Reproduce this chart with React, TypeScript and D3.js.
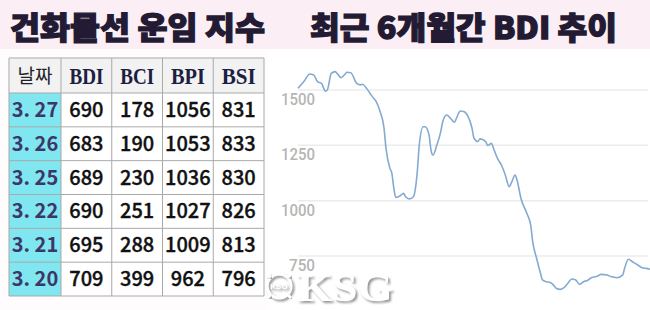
import React from "react";
import * as d3 from "d3";

// ---- data ----
const titleLeft = "건화물선 운임 지수";
const titleRight = "최근 6개월간 BDI 추이";

const headers = ["날짜", "BDI", "BCI", "BPI", "BSI"];
const dates = ["3. 27", "3. 26", "3. 25", "3. 22", "3. 21", "3. 20"];
const bdi = [690, 683, 689, 690, 695, 709];
const bci = [178, 190, 230, 251, 288, 399];
const bpi = [1056, 1053, 1036, 1027, 1009, 962];
const bsi = [831, 833, 830, 826, 813, 796];

const yTicks = [750, 1000, 1250, 1500];

// BDI trend over the last ~6 months (day offset from start, index value)
const days = [0, 3, 6, 8, 10, 12, 14, 15, 17, 19, 20, 22, 24, 25, 27, 30, 32, 33, 35, 38, 40, 42, 44, 45, 47, 48, 49, 50, 52, 54, 55, 57, 59, 61, 62, 64, 65, 67, 68, 69, 71, 73, 74, 76, 78, 80, 81, 83, 85, 87, 89, 90, 92, 93, 96, 97, 99, 100, 102, 104, 106, 108, 109, 111, 112, 114, 117, 119, 120, 122, 124, 125, 127, 129, 131, 132, 134, 136, 138, 140, 142, 144, 146, 148, 150, 153, 155, 158, 160, 163, 166, 167, 169, 171, 173, 176, 178, 180];
const bdiTrend = [1508, 1538, 1572, 1568, 1538, 1530, 1495, 1500, 1575, 1583, 1575, 1556, 1571, 1580, 1578, 1530, 1523, 1526, 1508, 1470, 1447, 1402, 1327, 1236, 1146, 1123, 1056, 1014, 1021, 1033, 1018, 1008, 1018, 1131, 1251, 1334, 1334, 1297, 1229, 1206, 1251, 1312, 1357, 1387, 1372, 1354, 1372, 1405, 1402, 1380, 1327, 1282, 1267, 1279, 1267, 1249, 1259, 1236, 1191, 1161, 1116, 1063, 1078, 1116, 1093, 1011, 943, 890, 815, 740, 672, 642, 634, 630, 615, 604, 599, 607, 627, 646, 642, 622, 634, 639, 652, 658, 667, 664, 657, 652, 664, 694, 735, 724, 714, 697, 694, 690];

const W = 650;
const H = 310;

export default function App() {
  // chart scales
  const x = d3.scaleLinear().domain([0, 180]).range([298, 650]);
  const y = d3.scaleLinear().domain([750, 1500]).range([256, 90]);
  const pts: [number, number][] = days.map((d, i) => [d, bdiTrend[i]]);
  const line = d3
    .line<[number, number]>()
    .x((d) => x(d[0]))
    .y((d) => y(d[1]))
    .curve(d3.curveMonotoneX);

  // table scales
  const tableTop = 58;
  const headerBottom = 93;
  const tableBottom = 296;
  const tableLeft = 9;
  const dateRight = 61;
  const tableRight = 264;
  const rowY = d3.scaleBand<string>().domain(dates).range([headerBottom, tableBottom]);
  const colX = d3.scaleBand<string>().domain(headers.slice(1)).range([dateRight, tableRight]);
  const series = [bdi, bci, bpi, bsi];

  const border = "#a9a9a9";
  const titleColor = "#231a33";

  return (
    <div style={{ position: "absolute", left: 0, top: 0 }}>
      <svg width={W} height={H} style={{ display: "block" }}>
        <defs>
          <filter id="shadow" x="-20%" y="-20%" width="140%" height="140%">
            <feDropShadow dx="2" dy="2" stdDeviation="1.2" floodColor="#8a8a8a" floodOpacity="0.9" />
          </filter>
        </defs>
        <rect x={0} y={0} width={W} height={H} fill="#fefcfd" />
        {/* title bar */}
        <rect x={0} y={0} width={W} height={49} fill="#fbeef4" />
        <text
          x={10}
          y={39}
          fontFamily="'Noto Sans CJK KR', sans-serif"
          fontWeight={900}
          fontSize={31}
          fill={titleColor}
          stroke={titleColor}
          strokeWidth={1.3}
          textLength={255}
          lengthAdjust="spacingAndGlyphs"
        >
          {titleLeft}
        </text>
        <text
          x={310}
          y={39}
          fontFamily="'Noto Sans CJK KR', sans-serif"
          fontWeight={900}
          fontSize={31}
          fill={titleColor}
          stroke={titleColor}
          strokeWidth={1.3}
          textLength={307}
          lengthAdjust="spacingAndGlyphs"
        >
          {titleRight}
        </text>

        {/* chart */}
        <rect x={268} y={52} width={382} height={258} fill="#ffffff" />
        {yTicks.map((t) => (
          <line key={t} x1={298} x2={648} y1={y(t)} y2={y(t)} stroke="#ececec" strokeWidth={1.5} />
        ))}
        {yTicks.map((t) => (
          <text
            key={"l" + t}
            x={315}
            y={y(t) + 15}
            textAnchor="end"
            fontFamily="Roboto, 'Noto Sans', sans-serif"
            fontSize={16}
            fontWeight={500}
            fill="#b5b5b5"
            textLength={String(t).length === 4 ? 34 : 26}
            lengthAdjust="spacingAndGlyphs"
          >
            {t}
          </text>
        ))}
        <path d={line(pts) || ""} fill="none" stroke="#84aad2" strokeWidth={1.6} />

        {/* watermark */}
        <g>
          <circle cx={279} cy={286} r={12} fill="none" stroke="#ffffff" strokeWidth={3} filter="url(#shadow)" />
          {d3.range(8).map((i) => {
            const a = (i * Math.PI) / 4;
            return (
              <line
                key={i}
                x1={279 + Math.cos(a) * 12}
                y1={286 + Math.sin(a) * 12}
                x2={279 + Math.cos(a) * 17}
                y2={286 + Math.sin(a) * 17}
                stroke="#ffffff"
                strokeWidth={3}
                filter="url(#shadow)"
              />
            );
          })}
          <text x={279} y={289} textAnchor="middle" fontFamily="Liberation Sans, sans-serif" fontSize={8} fontWeight={700} fill="#ffffff" filter="url(#shadow)">
            KSG
          </text>
          <text
            x={297}
            y={301}
            fontFamily="'Liberation Serif', serif"
            fontWeight={700}
            fontSize={40}
            fill="#ffffff"
            filter="url(#shadow)"
            textLength={96}
            lengthAdjust="spacingAndGlyphs"
          >
            KSG
          </text>
        </g>

        {/* table */}
        <rect x={tableLeft} y={tableTop} width={tableRight - tableLeft} height={tableBottom - tableTop} fill="#ffffff" />
        <rect x={tableLeft} y={tableTop} width={tableRight - tableLeft} height={headerBottom - tableTop} fill="#f2f2f3" />
        <rect x={tableLeft} y={headerBottom} width={dateRight - tableLeft} height={tableBottom - headerBottom} fill="#80e6ef" />
        {/* grid lines */}
        {[tableTop, ...dates.map((d) => rowY(d) as number), tableBottom].map((yy, i) => (
          <line key={"h" + i} x1={tableLeft} x2={tableRight} y1={yy} y2={yy} stroke={border} strokeWidth={1} />
        ))}
        {[tableLeft, dateRight, ...headers.slice(2).map((h) => colX(h) as number), tableRight].map((xx, i) => (
          <line key={"v" + i} x1={xx} x2={xx} y1={tableTop} y2={tableBottom} stroke={border} strokeWidth={1} />
        ))}
        {/* header texts */}
        <text
          x={(tableLeft + dateRight) / 2}
          y={83}
          textAnchor="middle"
          fontFamily="'Noto Sans CJK KR', sans-serif"
          fontSize={19}
          fill="#1f1f2a"
        >
          {headers[0]}
        </text>
        {headers.slice(1).map((h) => (
          <text
            key={h}
            x={(colX(h) as number) + colX.bandwidth() / 2}
            y={84}
            textAnchor="middle"
            fontFamily="'Liberation Serif', 'DejaVu Serif', serif"
            fontWeight={700}
            fontSize={24}
            fill="#1c2040"
            textLength={34}
            lengthAdjust="spacingAndGlyphs"
          >
            {h}
          </text>
        ))}
        {/* rows */}
        {dates.map((d, r) => {
          const cy = (rowY(d) as number) + rowY.bandwidth() / 2;
          return (
            <g key={d}>
              <text
                x={(tableLeft + dateRight) / 2}
                y={cy + 7}
                textAnchor="middle"
                fontFamily="'Noto Sans CJK KR', sans-serif"
                fontWeight={700}
                fontSize={20}
                fill="#3c3768"
              >
                {d}
              </text>
              {series.map((s, c) => (
                <text
                  key={c}
                  x={(colX(headers[c + 1]) as number) + colX.bandwidth() / 2}
                  y={cy + 7}
                  textAnchor="middle"
                  fontFamily="'Noto Sans CJK KR', sans-serif"
                  fontWeight={500}
                  fontSize={20}
                  fill="#111111"
                  stroke="#111111"
                  strokeWidth={0.35}
                >
                  {s[r]}
                </text>
              ))}
            </g>
          );
        })}
      </svg>
    </div>
  );
}
